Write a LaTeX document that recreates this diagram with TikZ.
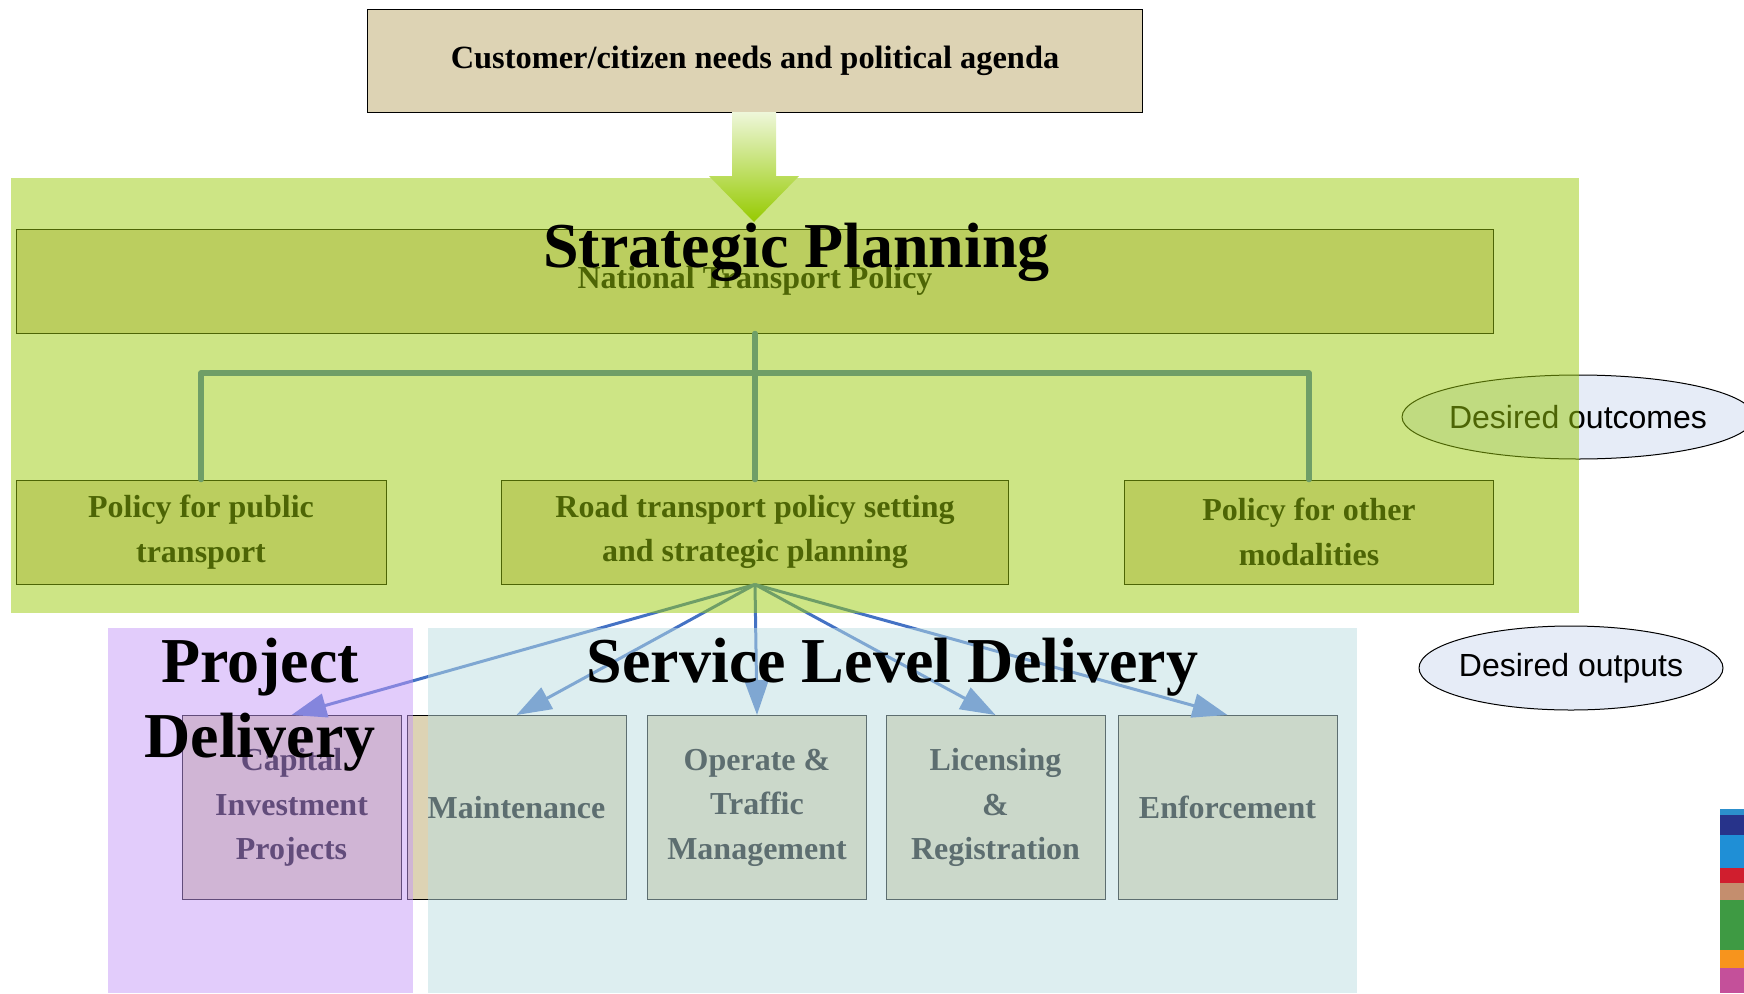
\documentclass[tikz,border=0pt]{standalone}
\usepackage{fontspec}
\setmainfont{Liberation Serif}
\newfontfamily\arialfont{Liberation Sans}
\usetikzlibrary{arrows.meta, shapes.geometric, positioning}
\definecolor{cTan}{RGB}{221,211,180}
\definecolor{cLink}{RGB}{68,114,196}
\definecolor{cBubble}{RGB}{230,236,247}
\definecolor{cGreenZone}{RGB}{155,203,11}
\definecolor{cBlueZone}{RGB}{187,221,225}
\definecolor{cPurpleZone}{RGB}{197,153,247}
\definecolor{cArrowTop}{RGB}{238,247,218}
\definecolor{cArrowTip}{RGB}{150,202,0}
\definecolor{cStripA}{RGB}{44,143,204}
\definecolor{cStripB}{RGB}{39,51,138}
\definecolor{cStripC}{RGB}{31,143,214}
\definecolor{cStripD}{RGB}{208,30,46}
\definecolor{cStripE}{RGB}{196,142,110}
\definecolor{cStripF}{RGB}{62,154,67}
\definecolor{cStripG}{RGB}{247,148,29}
\definecolor{cStripH}{RGB}{196,80,154}
\tikzstyle{fBox} = [rectangle, draw=black, line width=1pt, fill=cTan, inner sep=0pt, align=center, font=\bfseries\fontsize{32}{44.5}\selectfont]
\tikzstyle{fPolicy} = [fBox, minimum height=104pt]
\tikzstyle{fTask} = [fBox, minimum width=219pt, minimum height=184pt]
\tikzstyle{fBubble} = [ellipse, draw=black, line width=1pt, fill=cBubble, inner ysep=0pt, inner xsep=-7pt, minimum height=84pt, font=\arialfont\fontsize{32}{38}\selectfont]
\tikzstyle{fTree} = [line width=5.5pt, draw=cLink, line cap=round, line join=round]
\tikzstyle{fArrow} = [line width=3pt, draw=cLink, -{Triangle[length=35pt, width=24pt]}]
\tikzstyle{fZone} = [fill opacity=0.5]
\tikzstyle{fTitle} = [inner sep=0pt, anchor=base, align=center, font=\bfseries\fontsize{64}{75}\selectfont]

\begin{document}
\begin{tikzpicture}[x=1pt, y=-1pt, node distance=554pt]
    \useasboundingbox (0,0) rectangle (1744,993);

    \node (needs) [fBox, minimum width=775pt, minimum height=103pt, font=\bfseries\fontsize{32.4}{40}\selectfont] at (755,60.5) {Customer/citizen needs and political agenda};
    \node (ntp) [fPolicy, minimum width=1477pt] at (755,281) {National Transport Policy};
    \node (roadpol) [fPolicy, minimum width=507pt] at (755,532) {Road transport policy setting\\and strategic planning};
    \node (pubpol) [fPolicy, minimum width=370pt, left of=roadpol] {Policy for public\\transport};
    \node (othpol) [fPolicy, minimum width=369pt, right of=roadpol] {Policy for other\\modalities};

    \node (capital) [fTask] at (291.5,807.5) {Capital\\Investment\\Projects};
    \node (maint) [fTask, right of=capital, node distance=225pt] {Maintenance};
    \node (operate) [fTask, right of=maint, node distance=240.5pt] {Operate \&\\Traffic\\Management};
    \node (licence) [fTask, right of=operate, node distance=238.5pt] {Licensing\\\&\\Registration};
    \node (enforce) [fTask, right of=licence, node distance=232pt] {Enforcement};

    \node (outcomes) [fBubble, minimum width=352pt] at (1578,417) {Desired outcomes};
    \node (outputs) [fBubble, minimum width=304pt] at (1571,668) {Desired outputs};

    \coordinate (fork) at (755,373);
    \draw [fTree] (ntp.south) -- (roadpol.north);
    \draw [fTree] (pubpol.north) |- (fork) -| (othpol.north);

    \draw [fArrow] (roadpol.south) -- (capital.north);
    \draw [fArrow] (roadpol.south) -- (maint.north);
    \draw [fArrow] (roadpol.south) -- (operate.north);
    \draw [fArrow] (roadpol.south) -- (licence.north);
    \draw [fArrow] (roadpol.south) -- (enforce.north);

    % see-through zones
    \fill [fZone, fill=cGreenZone] (11,178) rectangle (1579,613);
    \fill [fZone, fill=cBlueZone] (428,628) rectangle (1357,993);
    \fill [fZone, fill=cPurpleZone] (108,628) rectangle (413,993);

    \shade [top color=cArrowTop, bottom color=cArrowTip] (732,112) -- (776,112) -- (776,176) -- (799,176) -- (754,222) -- (709,176) -- (732,176) -- cycle;

    \node (stratTitle) [fTitle] at (796.5,267) {Strategic Planning};
    \node (serviceTitle) [fTitle] at (892.5,682) {Service Level Delivery};
    \node (projectTitle) [fTitle] at (260,757) {Project\\Delivery};

    % logo strip at the edge
    \fill [cStripA] (1720,809) rectangle (1744,815);
    \fill [cStripB] (1720,815) rectangle (1744,835);
    \fill [cStripC] (1720,835) rectangle (1744,868);
    \fill [cStripD] (1720,868) rectangle (1744,883);
    \fill [cStripE] (1720,883) rectangle (1744,900);
    \fill [cStripF] (1720,900) rectangle (1744,950);
    \fill [cStripG] (1720,950) rectangle (1744,968);
    \fill [cStripH] (1720,968) rectangle (1744,993);
\end{tikzpicture}
\end{document}
